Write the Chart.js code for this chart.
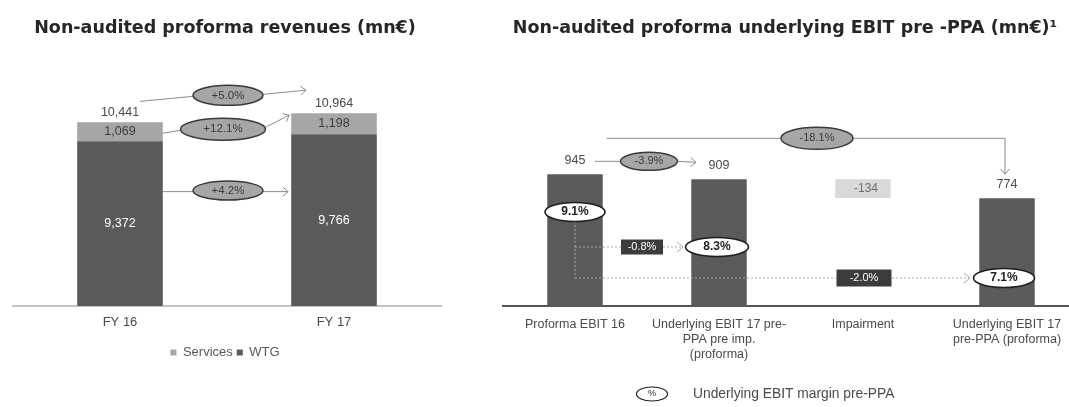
<!DOCTYPE html>
<html><head><meta charset="utf-8">
<script src="https://cdn.jsdelivr.net/npm/chart.js@4.4.1/dist/chart.umd.min.js"></script>
<style>
html,body{margin:0;padding:0;background:#fff;width:1069px;height:407px;overflow:hidden;position:relative}
#wl{position:absolute;left:0;top:0;width:455px;height:407px}
#wr{position:absolute;left:491px;top:0;width:588px;height:407px}
canvas{display:block}
</style></head><body>
<div id="wl"><canvas id="cl" width="455" height="407"></canvas></div>
<div id="wr"><canvas id="cr" width="588" height="407"></canvas></div>
<script>
// ---------- DATA ----------
const revCategories = ['FY 16', 'FY 17'];
const wtgValues = [9372, 9766];
const servicesValues = [1069, 1198];
const revGrowthLabels = ['+5.0%', '+12.1%', '+4.2%']; // total, services, WTG

const ebitCategories = [
  ['Proforma EBIT 16'],
  ['Underlying EBIT 17 pre-', 'PPA pre imp.', '(proforma)'],
  ['Impairment'],
  ['Underlying EBIT 17', 'pre-PPA (proforma)']
];
const ebitValues = [945, 909, -134, 774];
const ebitKinds = ['total', 'total', 'delta', 'total'];
const ebitChangeLabels = ['-3.9%', '-18.1%'];
const marginLabels = ['9.1%', '8.3%', '7.1%'];
const marginChangeLabels = ['-0.8%', '-2.0%'];

// ---------- STYLE ----------
const DARK = '#5a5a5a', LIGHT = '#a6a6a6', PALE = '#d9d9d9', TXT = '#4a4a4a';
const FONT = "'Liberation Sans', Arial, sans-serif";
Chart.defaults.font.family = FONT;
Chart.defaults.color = TXT;

const totals = wtgValues.map((v, i) => v + servicesValues[i]);
const fmt = v => v.toLocaleString('en-US');

// floating bars for the bridge
let running = 0;
const ebitFloat = ebitValues.map((v, i) => {
  if (ebitKinds[i] === 'total') { running = v; return [0, v]; }
  const r = [running + v, running]; running += v; return r;
});

// ---------- helpers ----------
function ellipse(ctx, cx, cy, w, h, fill, stroke, lw) {
  ctx.beginPath(); ctx.ellipse(cx, cy, w / 2, h / 2, 0, 0, Math.PI * 2);
  if (fill) { ctx.fillStyle = fill; ctx.fill(); }
  if (stroke) { ctx.lineWidth = lw || 1.5; ctx.strokeStyle = stroke; ctx.stroke(); }
}
function txt(ctx, s, x, y, opt) {
  opt = opt || {};
  ctx.font = (opt.weight || 'normal') + ' ' + (opt.size || 12) + 'px ' + FONT;
  ctx.fillStyle = opt.color || TXT;
  ctx.textAlign = opt.align || 'center';
  ctx.textBaseline = 'middle';
  ctx.fillText(s, x, y);
}
function poly(ctx, pts, color, lw, dash) {
  ctx.save(); ctx.beginPath();
  ctx.setLineDash(dash || []);
  ctx.moveTo(pts[0][0], pts[0][1]);
  for (let i = 1; i < pts.length; i++) ctx.lineTo(pts[i][0], pts[i][1]);
  ctx.strokeStyle = color; ctx.lineWidth = lw || 1; ctx.stroke(); ctx.restore();
}
function chevron(ctx, from, tip, color, size) {
  const dir = Math.atan2(tip[1] - from[1], tip[0] - from[0]);
  const a = Math.PI / 4.5; size = size || 7;
  poly(ctx, [
    [tip[0] - size * Math.cos(dir - a), tip[1] - size * Math.sin(dir - a)],
    tip,
    [tip[0] - size * Math.cos(dir + a), tip[1] - size * Math.sin(dir + a)]
  ], color, 1);
}
function arrow(ctx, from, tip, color) { poly(ctx, [from, tip], color, 1); chevron(ctx, from, tip, color); }
function box(ctx, cx, cy, w, h, fill) { ctx.fillStyle = fill; ctx.fillRect(cx - w / 2, cy - h / 2, w, h); }

// ---------- LEFT annotations ----------
const leftAnno = {
  id: 'leftAnno',
  afterDatasetsDraw(chart) {
    const ctx = chart.ctx;
    const wm = chart.getDatasetMeta(0).data, sm = chart.getDatasetMeta(1).data;
    ctx.save();
    totals.forEach((t, i) => txt(ctx, fmt(t), sm[i].x, sm[i].y - 10, {size: 12.5}));
    sm.forEach((el, i) => txt(ctx, fmt(servicesValues[i]), el.x, (el.y + el.base) / 2, {size: 12.5, color: '#3c3c3c'}));
    wm.forEach((el, i) => txt(ctx, fmt(wtgValues[i]), el.x, (el.y + el.base) / 2, {size: 12.5, color: '#ffffff'}));

    const x0 = sm[0].x, x1 = sm[1].x;
    const right0 = x0 + sm[0].width / 2, left1 = x1 - sm[1].width / 2;
    const top0 = sm[0].y, top1 = sm[1].y;
    const ac = '#8c8c8c';
    // total growth
    let cx = (x0 + x1) / 2 + 1, cy = top0 - 27, w = 70, h = 20;
    poly(ctx, [[x0 + 20, top0 - 21], [cx - w / 2, cy + 1]], ac);
    arrow(ctx, [cx + w / 2, cy - 1], [x1 - 28, top1 - 23], ac);
    ellipse(ctx, cx, cy, w, h, LIGHT, '#3a3a3a', 1.5);
    txt(ctx, revGrowthLabels[0], cx, cy, {size: 11.5, color: '#3a3a3a'});
    // services growth
    const mid0 = (sm[0].y + sm[0].base) / 2;
    cx = (right0 + left1) / 2 - 4; cy = mid0 - 2.5; w = 85; h = 22;
    poly(ctx, [[right0, mid0 + 1.5], [cx - w / 2, cy + 1]], ac);
    arrow(ctx, [cx + w / 2, cy - 2], [left1 - 2, top1 + 2], ac);
    ellipse(ctx, cx, cy, w, h, LIGHT, '#3a3a3a', 1.5);
    txt(ctx, revGrowthLabels[1], cx, cy, {size: 11.5, color: '#3a3a3a'});
    // WTG growth
    cy = wm[0].base - 0.7 * (wm[0].base - wm[0].y); cx = (right0 + left1) / 2 + 1; w = 70; h = 19;
    poly(ctx, [[right0, cy + 1], [cx - w / 2, cy + 1]], ac);
    arrow(ctx, [cx + w / 2, cy + 1], [left1 - 3, cy + 1], ac);
    ellipse(ctx, cx, cy, w, h, LIGHT, '#3a3a3a', 1.5);
    txt(ctx, revGrowthLabels[2], cx, cy, {size: 11.5, color: '#3a3a3a'});
    ctx.restore();
  }
};

// ---------- RIGHT annotations ----------
const rightAnno = {
  id: 'rightAnno',
  afterDatasetsDraw(chart) {
    const ctx = chart.ctx;
    const bars = chart.getDatasetMeta(0).data;
    const base = bars[0].base;
    ctx.save();
    // value labels
    bars.forEach((el, i) => {
      if (ebitKinds[i] === 'total') txt(ctx, fmt(ebitValues[i]), el.x, el.y - 14, {size: 12.5});
      else txt(ctx, fmt(ebitValues[i]), el.x + 3, (el.y + el.base) / 2, {size: 12, color: '#6e6e6e'});
    });
    const b0 = bars[0], b1 = bars[1], b2 = bars[2], b3 = bars[3];
    const ac = '#8c8c8c';
    // -3.9%
    let cy = b0.y - 13, cx = (b0.x + b1.x) / 2 + 2, w = 57, h = 18;
    poly(ctx, [[b0.x + 20, cy], [cx - w / 2, cy]], ac);
    arrow(ctx, [cx + w / 2, cy], [b1.x - 23, cy + 1], ac);
    ellipse(ctx, cx, cy, w, h, LIGHT, '#3a3a3a', 1.5);
    txt(ctx, ebitChangeLabels[0], cx, cy, {size: 11, color: '#3a3a3a'});
    // -18.1%
    cy = b0.y - 36;
    const tipY = b3.y - 24;
    poly(ctx, [[b0.x + b0.width / 2 + 4, cy], [b3.x - 2, cy], [b3.x - 2, tipY]], ac);
    chevron(ctx, [b3.x - 2, cy], [b3.x - 2, tipY], ac);
    cx = b2.x - 46; w = 72; h = 22;
    ellipse(ctx, cx, cy, w, h, LIGHT, '#3a3a3a', 1.5);
    txt(ctx, ebitChangeLabels[1], cx, cy, {size: 11, color: '#3a3a3a'});

    // margins
    const y9 = base - 94, y8 = base - 59, y7 = base - 28;
    const dc = '#a8a8a8', dash = [2, 2];
    const e8x = b1.x - 2, e7x = b3.x - 3;
    const bx8 = (b0.x + b1.x) / 2 - 5, bx7 = b2.x + 1;
    poly(ctx, [[b0.x, y9 + 9], [b0.x, y7]], dc, 1, dash);
    poly(ctx, [[b0.x, y8], [bx8 - 21, y8]], dc, 1, dash);
    poly(ctx, [[bx8 + 21, y8], [e8x - 34, y8]], dc, 1, dash);
    chevron(ctx, [bx8, y8], [e8x - 34, y8], dc, 8);
    poly(ctx, [[b0.x, y7], [bx7 - 28, y7]], dc, 1, dash);
    poly(ctx, [[bx7 + 28, y7], [e7x - 34, y7]], dc, 1, dash);
    chevron(ctx, [bx7, y7], [e7x - 34, y7], dc, 8);

    box(ctx, bx8, y8, 42, 15, '#3c3c3c');
    txt(ctx, marginChangeLabels[0], bx8, y8, {size: 11, color: '#ffffff'});
    box(ctx, bx7, y7, 55, 17, '#3c3c3c');
    txt(ctx, marginChangeLabels[1], bx7, y7, {size: 11, color: '#ffffff'});

    [[b0.x, y9, 60], [e8x, y8, 63], [e7x, y7, 61]].forEach((p, i) => {
      ellipse(ctx, p[0], p[1], p[2], 19, '#ffffff', '#1e1e1e', 1.6);
      txt(ctx, marginLabels[i], p[0], p[1], {size: 12, weight: 'bold', color: '#1e1e1e'});
    });

    // legend
    const lx = (b0.x + b1.x) / 2 + 5, ly = 394;
    ellipse(ctx, lx, ly, 31, 14, '#ffffff', '#1e1e1e', 1.2);
    txt(ctx, '%', lx, ly, {size: 9, color: '#1e1e1e'});
    txt(ctx, 'Underlying EBIT margin pre-PPA', lx + 41, ly, {size: 13.8, align: 'left'});
    ctx.restore();
  }
};

const titleFont = {family: "'DejaVu Sans', Verdana, sans-serif", size: 17.5, weight: 'bold'};

new Chart(document.getElementById('cl'), {
  type: 'bar',
  data: {
    labels: revCategories,
    datasets: [
      {label: 'WTG', data: wtgValues, backgroundColor: DARK},
      {label: 'Services', data: servicesValues, backgroundColor: LIGHT}
    ]
  },
  options: {
    responsive: false, animation: false,
    layout: {padding: {left: 9, right: 14, bottom: 38, top: 0}},
    datasets: {bar: {categoryPercentage: 1, barPercentage: 0.4}},
    scales: {
      x: {stacked: true, grid: {display: false, drawTicks: false},
          border: {display: true, color: '#c4c4c4', width: 2},
          ticks: {padding: 9, color: TXT, font: {size: 13}},
          afterFit(s) { s.height = 36; }},
      y: {stacked: true, min: 0, max: 14100,
          ticks: {display: false}, grid: {display: false, drawTicks: false}, border: {display: false},
          afterFit(s) { s.width = 4; }}
    },
    plugins: {
      title: {display: true, text: 'Non-audited proforma revenues (mn€)', font: titleFont, color: '#262626', padding: {top: 18, bottom: 19}},
      legend: {position: 'bottom', reverse: true,
               labels: {boxWidth: 6, boxHeight: 6, padding: 4, color: '#5a5a5a', font: {size: 13}}},
      tooltip: {enabled: false}
    }
  },
  plugins: [leftAnno]
});

new Chart(document.getElementById('cr'), {
  type: 'bar',
  data: {
    labels: ebitCategories,
    datasets: [{
      label: 'EBIT', data: ebitFloat,
      backgroundColor: ebitKinds.map(k => k === 'total' ? DARK : PALE)
    }]
  },
  options: {
    responsive: false, animation: false,
    layout: {padding: 0},
    datasets: {bar: {categoryPercentage: 1, barPercentage: 0.385}},
    scales: {
      x: {grid: {display: false, drawTicks: false},
          border: {display: true, color: '#555555', width: 2},
          ticks: {padding: 11, color: TXT, font: {size: 12.5, lineHeight: 1.2}, autoSkip: false, maxRotation: 0, minRotation: 0},
          afterFit(s) { s.height = 101; }},
      y: {min: 0, max: 1780,
          ticks: {display: false}, grid: {display: false, drawTicks: false}, border: {display: false},
          afterFit(s) { s.width = 12; }}
    },
    plugins: {
      title: {display: true, text: 'Non-audited proforma underlying EBIT pre -PPA (mn€)¹', font: titleFont, color: '#262626', padding: {top: 18, bottom: 19}},
      legend: {display: false},
      tooltip: {enabled: false}
    }
  },
  plugins: [rightAnno]
});
</script>
</body></html>
